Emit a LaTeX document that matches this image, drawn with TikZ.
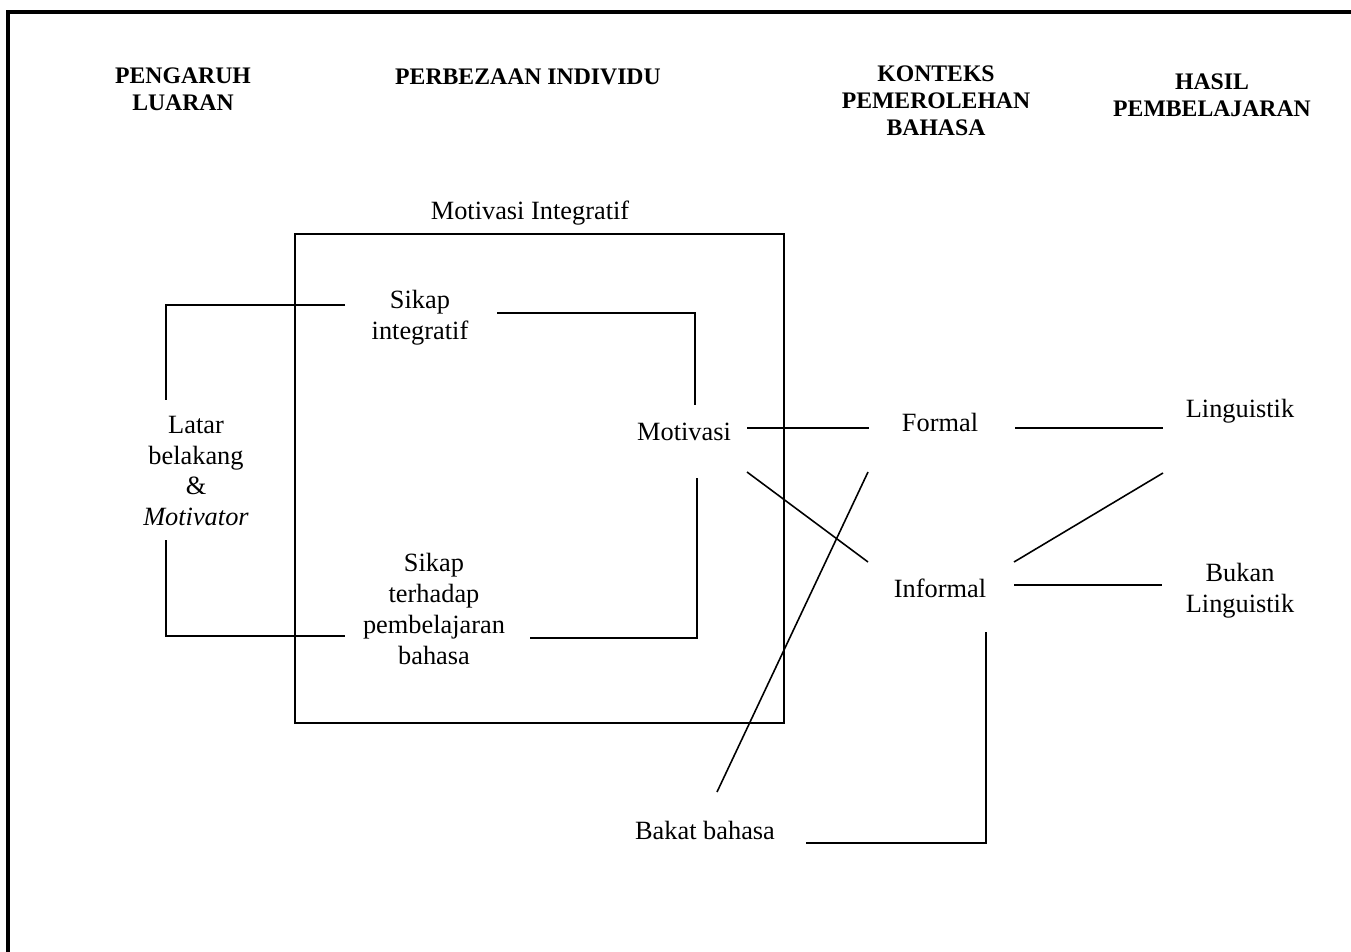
\documentclass[tikz,border=0pt]{standalone}
\usepackage{fontspec}
\setmainfont{Liberation Serif}
\usetikzlibrary{positioning}

\begin{document}
\begin{tikzpicture}
[x=0.02cm,y=-0.02cm,%
  lineDecorate/.style={-,line width=0.9pt},%
  frameDecorate/.style={-,line width=2.6pt},%
  headDecorate/.style={align=center,inner sep=0pt,font=\fontsize{13.5}{15.4}\selectfont\bfseries},%
  nodeDecorate/.style={align=center,inner sep=0pt,font=\fontsize{15}{17.6}\selectfont}]
\useasboundingbox (0,0) rectangle (1351,952);
%% outer frame
\draw [frameDecorate] (1351,12) -- (8,12) -- (8,952);
%% column headings
\node (luaran) at (183,89) [headDecorate] {PENGARUH\\LUARAN};
\node (individu) at (528,77) [headDecorate] {PERBEZAAN INDIVIDU};
\node (konteks) at (936,101) [headDecorate] {KONTEKS\\PEMEROLEHAN\\BAHASA};
\node (hasil) at (1212,95) [headDecorate] {HASIL\\PEMBELAJARAN};
%% box of integrative motivation
\node (mibox) at (539.5,478.5) [draw,lineDecorate,minimum width=9.78cm,minimum height=9.78cm] {};
\node (milabel) at (530,213) [nodeDecorate] {Motivasi Integratif};
%% nodes
\node (latar) at (196,471) [nodeDecorate] {Latar\\belakang\\\&\\\textit{Motivator}};
\node (sikapint) at (420,318) [nodeDecorate] {Sikap\\integratif};
\node (sikapbel) at (434,609) [nodeDecorate] {Sikap\\terhadap\\pembelajaran\\bahasa};
\node (motivasi) at (684,432) [nodeDecorate] {Motivasi};
\node (formal) at (940,422) [nodeDecorate] {Formal};
\node (informal) at (940,588) [nodeDecorate] {Informal};
\node (linguistik) at (1240,411) [nodeDecorate] {Linguistik};
\node (bukan) at (1240,591) [nodeDecorate] {Bukan\\Linguistik};
\node (bakat) at (705,830) [nodeDecorate] {Bakat bahasa};
%% brackets round the box
\draw [lineDecorate] ([shift={(-75,-13)}]sikapint.center) -| ([shift={(-30,-71)}]latar.center);
\draw [lineDecorate] ([shift={(-30,69)}]latar.center) |- ([shift={(-89,27)}]sikapbel.center);
\draw [lineDecorate] ([shift={(77,-5)}]sikapint.center) -| ([shift={(11,-27)}]motivasi.center);
\draw [lineDecorate] ([shift={(96,29)}]sikapbel.center) -| ([shift={(13,46)}]motivasi.center);
%% links to context and outcome
\draw [lineDecorate] ([shift={(63,-4)}]motivasi.center) -- ([shift={(-71,6)}]formal.center);
\draw [lineDecorate] ([shift={(63,40)}]motivasi.center) -- ([shift={(-72,-26)}]informal.center);
\draw [lineDecorate] ([shift={(75,6)}]formal.center) -- ([shift={(-77,17)}]linguistik.center);
\draw [lineDecorate] ([shift={(74,-26)}]informal.center) -- ([shift={(-77,62)}]linguistik.center);
\draw [lineDecorate] ([shift={(74,-3)}]informal.center) -- ([shift={(-78,-6)}]bukan.center);
\draw [lineDecorate] ([shift={(12,-38)}]bakat.center) -- ([shift={(-72,50)}]formal.center);
\draw [lineDecorate] ([shift={(46,44)}]informal.center) |- ([shift={(101,13)}]bakat.center);
\end{tikzpicture}
\end{document}
